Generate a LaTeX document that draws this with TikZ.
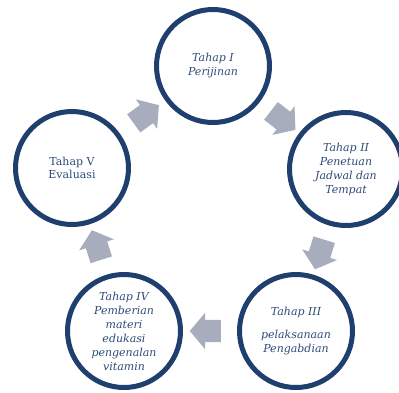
\documentclass[tikz,border=0pt]{standalone}
\usepackage{fontspec}
\setmainfont{DejaVu Serif}
\usetikzlibrary{shapes.arrows}

\definecolor{stageblue}{RGB}{31,63,110}
\definecolor{stagetext}{RGB}{46,74,120}
\definecolor{flowgray}{RGB}{168,173,189}

\begin{document}
\begin{tikzpicture}[x=1pt, y=-1pt,
    stage/.style={circle, draw=stageblue, line width=5pt, minimum size=113pt, inner sep=0pt,
        align=center, text=stagetext, font=\fontsize{11}{14}\selectfont\itshape},
    flow/.style={single arrow, fill=flowgray, minimum height=31pt, inner xsep=0pt,
        inner ysep=11pt, single arrow head extend=7pt, single arrow tip angle=100,
        sloped, allow upside down}]
    \useasboundingbox (0,0) rectangle (399,392);

    % Define stages
    \node[stage] (t1) at (213,66) {Tahap I\\Perijinan};
    \node[stage] (t2) at (346,169) {Tahap II\\Penetuan\\Jadwal dan\\Tempat};
    \node[stage] (t3) at (296,331) {Tahap III\\[9pt]pelaksanaan\\Pengabdian};
    \node[stage] (t4) at (124,331) {Tahap IV\\Pemberian\\materi\\edukasi\\pengenalan\\vitamin};
    \node[stage, font=\fontsize{11}{13}\selectfont] (t5) at (72,168) {Tahap V\\Evaluasi};

    % Define arrows
    \path
    (t1) -- node[flow] {} (t2)
    (t2) -- node[flow] {} (t3)
    (t3) -- node[flow] {} (t4)
    (t4) -- node[flow] {} (t5)
    (t5) -- node[flow] {} (t1);
\end{tikzpicture}
\end{document}
